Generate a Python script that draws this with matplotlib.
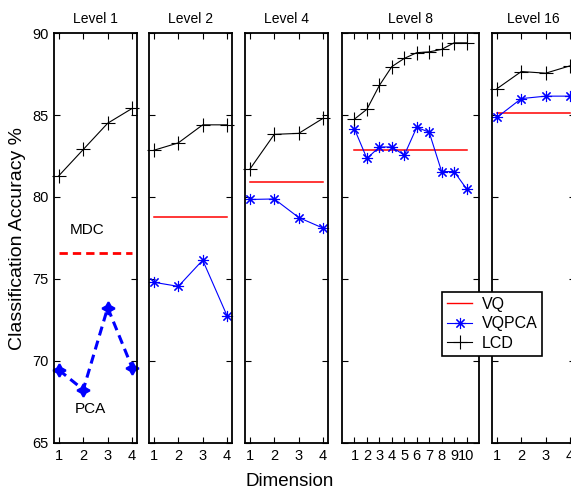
import matplotlib
matplotlib.use("Agg")
import matplotlib.pyplot as plt
from matplotlib.lines import Line2D

plt.rcParams["font.family"] = ["Liberation Sans", "DejaVu Sans"]

# classification accuracy (%) per codebook level
dims_short = [1, 2, 3, 4]
dims_long = [1, 2, 3, 4, 5, 6, 7, 8, 9, 10]

# level 1: plain PCA vs minimum distance classifier
lcd_l1 = [81.3, 82.9, 84.5, 85.4]
mdc_l1 = 76.6
pca_l1 = [69.45, 68.25, 73.25, 69.6]

lcd_l2 = [82.85, 83.3, 84.4, 84.4]
vq_l2 = 78.8
vqpca_l2 = [74.8, 74.55, 76.15, 72.75]

lcd_l4 = [81.7, 83.82, 83.88, 84.8]
vq_l4 = 80.9
vqpca_l4 = [79.85, 79.88, 78.75, 78.1]

lcd_l8 = [84.75, 85.35, 86.8, 87.95, 88.45, 88.8, 88.85, 89.0, 89.4, 89.4]
vq_l8 = 82.85
vqpca_l8 = [84.15, 82.35, 83.05, 83.05, 82.55, 84.25, 83.95, 81.55, 81.55, 80.5]

lcd_l16 = [86.6, 87.65, 87.55, 88.0]
vq_l16 = 85.1
vqpca_l16 = [84.85, 86.0, 86.15, 86.15]

titles = ["Level 1", "Level 2", "Level 4", "Level 8", "Level 16"]
y_ticks = [65, 70, 75, 80, 85, 90]

W, H = 571, 493
fig = plt.figure(figsize=(W / 100, H / 100), dpi=100)

# pixel boxes (left, right) of each panel, shared top/bottom
px_cols = [(54, 137), (149, 232), (245, 328), (342, 479), (492, 575)]
top, bottom = 33, 443

asterisk = (8, 2, 0)
pca_star = (4, 1, 0)

axes = []
for (l, r), title in zip(px_cols, titles):
    ax = fig.add_axes([l / W, (H - bottom) / H, (r - l) / W, (bottom - top) / H])
    ax.set_ylim(65, 90)
    ax.set_yticks(y_ticks)
    ax.tick_params(direction="in", top=True, right=True, length=4,
                   width=0.8, labelsize=10.5, pad=4)
    for sp in ax.spines.values():
        sp.set_linewidth(1.3)
    ax.set_title(title, fontsize=10, pad=7)
    axes.append(ax)

for ax in axes[1:]:
    ax.tick_params(labelleft=False)

ax1, ax2, ax3, ax4, ax5 = axes

# level 1
ax1.plot(dims_short, lcd_l1, color="black", lw=0.8, marker="+", ms=10, mew=0.8,
         clip_on=False)
ax1.plot([dims_short[0], dims_short[-1]], [mdc_l1, mdc_l1], color="red",
         lw=2, ls=(0, (3, 1.8)))
ax1.plot(dims_short, pca_l1, color="blue", lw=2.2, ls=(0, (3, 1.8)),
         marker=pca_star, ms=9, mew=1.5, clip_on=False)
ax1.text(2.15, 78.0, "MDC", ha="center", va="center", fontsize=11)
ax1.text(2.3, 67.05, "PCA", ha="center", va="center", fontsize=11)


def draw_level(ax, x, lcd, vq, vqpca):
    ax.plot([x[0], x[-1]], [vq, vq], color="red", lw=1.1)
    ax.plot(x, vqpca, color="blue", lw=0.8, marker=asterisk, ms=8, mew=0.8,
            clip_on=False)
    ax.plot(x, lcd, color="black", lw=0.8, marker="+", ms=10, mew=0.8,
            clip_on=False)


draw_level(ax2, dims_short, lcd_l2, vq_l2, vqpca_l2)
draw_level(ax3, dims_short, lcd_l4, vq_l4, vqpca_l4)
draw_level(ax4, dims_long, lcd_l8, vq_l8, vqpca_l8)
draw_level(ax5, dims_short, lcd_l16, vq_l16, vqpca_l16)

for ax in (ax1, ax2, ax3, ax5):
    ax.set_xlim(0.8, 4.2)
    ax.set_xticks(dims_short)
ax4.set_xlim(0, 11)
ax4.set_xticks(dims_long)

handles = [
    Line2D([], [], color="red", lw=1),
    Line2D([], [], color="blue", lw=0.8, marker=asterisk, ms=8, mew=0.8),
    Line2D([], [], color="black", lw=0.8, marker="+", ms=10, mew=0.8),
]
leg = fig.legend(handles, ["VQ", "VQPCA", "LCD"], loc="upper left",
                 bbox_to_anchor=(442 / W, (H - 292) / H), fontsize=11.5,
                 frameon=True, fancybox=False, framealpha=1, edgecolor="black",
                 borderaxespad=0, handlelength=1.6, handletextpad=0.6,
                 labelspacing=0.28, borderpad=0.3)
leg.get_frame().set_linewidth(1.2)
leg.set_zorder(10)

fig.text(290 / W, (H - 482) / H, "Dimension", ha="center", va="center",
         fontsize=13.5)
fig.text(18 / W, (H - 238) / H, "Classification Accuracy %", ha="center",
         va="center", rotation=90, fontsize=14)

fig.savefig("out.png", dpi=100)
